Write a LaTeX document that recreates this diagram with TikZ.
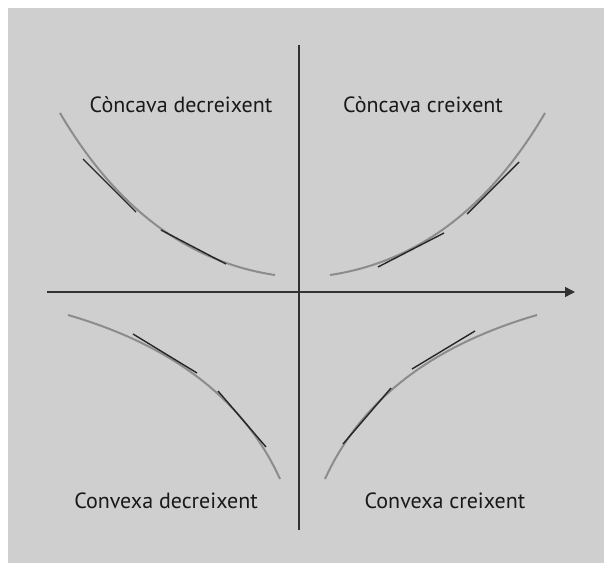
\documentclass[tikz,border=0pt]{standalone}
\usepackage{fontspec}
\setmainfont{PT Sans}
\usetikzlibrary{arrows.meta}
\definecolor{bggray}{RGB}{207,207,207}
\definecolor{curvegray}{RGB}{140,140,140}
\definecolor{axisgray}{RGB}{50,50,50}
\begin{document}
\begin{tikzpicture}[x=1pt,y=-1pt,
  axisline/.style={draw=axisgray,line width=1.4pt},
  curveline/.style={draw=curvegray,line width=2pt},
  tangline/.style={draw=black!85,line width=1.4pt},
  lbl/.style={font=\fontsize{22}{26}\selectfont,text=black!90,anchor=base,inner sep=0pt}]
\useasboundingbox (0,0) rectangle (604,563);
\fill[white] (0,0) rectangle (604,563);
\fill[bggray] (8,8) rectangle (604,563);
% axes
\coordinate (ytop) at (299,45);
\coordinate (ybot) at (299,530);
\coordinate (xl) at (47,292);
\coordinate (xr) at (575,292);
\draw[axisline] (ytop) -- (ybot);
\draw[axisline,-{Triangle[length=10pt,width=10pt]}] (xl) -- (xr);
% curves
\draw[curveline] (60,113) .. controls (115.8,207.9) and (187.5,261.9) .. (275,275);
\draw[curveline] (545,113) .. controls (489.2,207.9) and (417.5,261.9) .. (330,275);
\draw[curveline] (68,315) .. controls (173.5,345.6) and (244.2,400.3) .. (280,479);
\draw[curveline] (537,315) .. controls (431.5,345.6) and (360.8,400.3) .. (325,479);
% tangent segments
\coordinate (a1) at (83,159);  \coordinate (a2) at (136,212);
\coordinate (a3) at (161,230); \coordinate (a4) at (226,264);
\coordinate (b1) at (378,267); \coordinate (b2) at (444,233);
\coordinate (b3) at (467,214); \coordinate (b4) at (519,162);
\coordinate (c1) at (133,334); \coordinate (c2) at (197,373);
\coordinate (c3) at (218,391); \coordinate (c4) at (266,447);
\coordinate (d1) at (343,444); \coordinate (d2) at (391,388);
\coordinate (d3) at (412,369); \coordinate (d4) at (475,331);
\draw[tangline] (a1) -- (a2);
\draw[tangline] (a3) -- (a4);
\draw[tangline] (b1) -- (b2);
\draw[tangline] (b3) -- (b4);
\draw[tangline] (c1) -- (c2);
\draw[tangline] (c3) -- (c4);
\draw[tangline] (d1) -- (d2);
\draw[tangline] (d3) -- (d4);
% labels
\node[lbl] (tl) at (181,112) {Còncava decreixent};
\node[lbl] (tr) at (423,112) {Còncava creixent};
\node[lbl] (bl) at (166,508) {Convexa decreixent};
\node[lbl] (br) at (445,508) {Convexa creixent};
\end{tikzpicture}
\end{document}
